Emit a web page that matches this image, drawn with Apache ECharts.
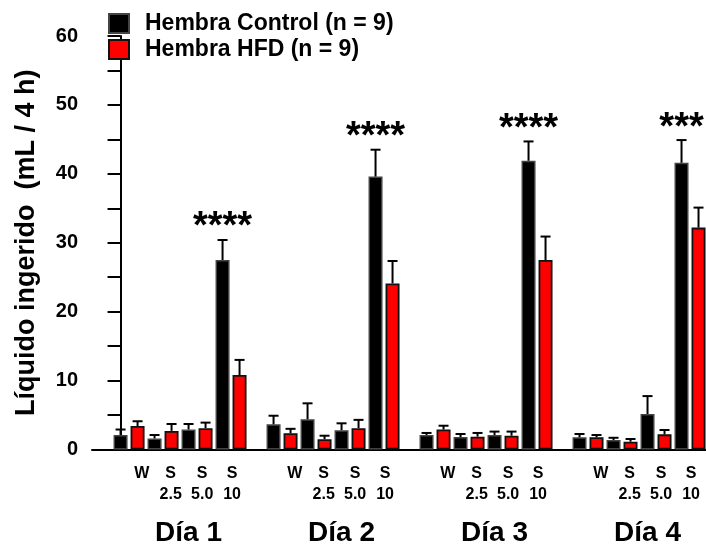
<!DOCTYPE html>
<html><head><meta charset="utf-8">
<script src="https://cdn.jsdelivr.net/npm/echarts@6/dist/echarts.min.js"></script>
<style>html,body{margin:0;padding:0;background:#fff}#c{width:706px;height:548px}</style>
</head><body><div id="c"></div>
<script>
// ---- data ----
const days = ['Día 1', 'Día 2', 'Día 3', 'Día 4'];
const treatments = ['W', 'S\n2.5', 'S\n5.0', 'S\n10'];
const seriesNames = ['Hembra Control (n = 9)', 'Hembra HFD (n = 9)'];
// order: day1 W, S2.5, S5.0, S10, day2 ..., day4
const controlMean = [2.1, 1.6, 2.9, 27.5, 3.65, 4.4, 2.8, 39.6, 2.1, 1.8, 2.1, 41.9, 1.77, 1.38, 5.15, 41.6];
const controlSem  = [0.8, 0.5, 0.8, 2.9, 1.25, 2.3, 1.0, 3.9, 0.3, 0.45, 0.5, 2.8, 0.48, 0.32, 2.6, 3.3];
const hfdMean     = [3.4, 2.7, 3.1, 10.8, 2.35, 1.5, 3.1, 24.1, 2.9, 1.86, 2.0, 27.5, 1.77, 1.13, 2.2, 32.2];
const hfdSem      = [0.7, 1.0, 0.8, 2.2, 0.65, 0.5, 1.2, 3.25, 0.55, 0.54, 0.6, 3.4, 0.33, 0.39, 0.63, 2.9];
const significance = ['****', '****', '****', '***'];
const yTickValues = [0, 10, 20, 30, 40, 50, 60];

// ---- layout helpers ----
const FONT = 'Arial, "Liberation Sans", Helvetica, sans-serif';
const SLOT_PER_DAY = 9;           // 8 bars + 1 gap
function pos(i, b) { const d = Math.floor(i / 4), p = i % 4; return d * SLOT_PER_DAY + p * 2 + b; }
const labelShift = [0.75, 0.45, 0.3, 0.06];

const treatPos = [], treatText = {};
days.forEach((d, di) => treatments.forEach((t, ti) => {
  const v = +(di * SLOT_PER_DAY + ti * 2 + 0.5 + labelShift[ti]).toFixed(3);
  treatPos.push(v); treatText[v.toFixed(3)] = t;
}));
const dayPos = [], dayText = {};
days.forEach((d, di) => { const v = +(di * SLOT_PER_DAY + 4.0).toFixed(3); dayPos.push(v); dayText[v.toFixed(3)] = d; });

const ctrlData = controlMean.map((m, i) => [pos(i, 0), m]);
const hfdData = hfdMean.map((m, i) => [pos(i, 1), m]);
const errData = [];
controlMean.forEach((m, i) => errData.push([pos(i, 0), m, m + controlSem[i]]));
hfdMean.forEach((m, i) => errData.push([pos(i, 1), m, m + hfdSem[i]]));
const sigData = significance.map((s, d) => { const i = d * 4 + 3; return [pos(i, 0), controlMean[i] + controlSem[i], s]; });

const X_MIN = -1.68, X_MAX = 34.44;

const chart = echarts.init(document.getElementById('c'), null, { renderer: 'canvas' });
chart.setOption({
  animation: false,
  backgroundColor: '#fff',
  textStyle: { fontFamily: FONT },
  legend: {
    orient: 'vertical', left: 108, top: 12, padding: 0,
    itemWidth: 20, itemHeight: 19, itemGap: 3,
    icon: 'rect',
    textStyle: { fontSize: 23, fontWeight: 'bold', color: '#000', fontFamily: FONT, lineHeight: 19, padding: [0, 0, 0, 11] },
    data: seriesNames
  },
  grid: { left: 92, right: 0, top: 36, bottom: 98.5, containLabel: false },
  xAxis: [{
    type: 'value', min: X_MIN, max: X_MAX,
    axisLine: { show: true, onZero: false, lineStyle: { color: '#000', width: 2 } },
    axisTick: { show: false }, splitLine: { show: false },
    axisLabel: {
      customValues: treatPos, margin: 14, color: '#000', fontSize: 16, fontWeight: 'bold',
      fontFamily: FONT, lineHeight: 21, align: 'center', verticalAlign: 'top',
      formatter: v => treatText[(+v).toFixed(3)] || ''
    }
  }, {
    type: 'value', min: X_MIN, max: X_MAX, position: 'bottom',
    axisLine: { show: false }, axisTick: { show: false }, splitLine: { show: false },
    axisLabel: {
      customValues: dayPos, margin: 70, color: '#000', fontSize: 28, fontWeight: 'bold',
      fontFamily: FONT, lineHeight: 28, verticalAlign: 'top',
      formatter: v => dayText[(+v).toFixed(3)] || ''
    }
  }],
  yAxis: {
    type: 'value', min: 0, max: 60, interval: 10,
    name: 'Líquido ingerido  (mL / 4 h)', nameLocation: 'middle', nameGap: 52,
    nameTextStyle: { fontSize: 27, fontWeight: 'bold', color: '#000', fontFamily: FONT },
    axisLine: { show: true, lineStyle: { color: '#000', width: 2 } },
    axisTick: { show: true, inside: false, length: 13, lineStyle: { color: '#000', width: 2 } },
    minorTick: { show: true, splitNumber: 2, length: 13, lineStyle: { color: '#000', width: 2 } },
    splitLine: { show: false },
    axisLabel: {
      margin: 14, color: '#000', fontSize: 20, fontWeight: 'bold', fontFamily: FONT,
      formatter: v => (yTickValues.indexOf(v) >= 0 ? String(v) : '')
    }
  },
  series: [{
    name: seriesNames[0], type: 'bar', xAxisIndex: 0, barWidth: 14, barGap: '-100%',
    itemStyle: { color: '#000', borderColor: '#444', borderWidth: 1.5 },
    data: ctrlData, z: 2
  }, {
    name: seriesNames[1], type: 'bar', xAxisIndex: 0, barWidth: 14, barGap: '-100%',
    itemStyle: { color: '#ff0000', borderColor: '#111', borderWidth: 1.8 },
    data: hfdData, z: 2
  }, {
    type: 'custom', xAxisIndex: 0, z: 3, silent: true,
    data: errData,
    renderItem: (params, api) => {
      const base = api.coord([api.value(0), api.value(1)]);
      const top = api.coord([api.value(0), api.value(2)]);
      const hw = 5;
      return { type: 'group', children: [
        { type: 'line', shape: { x1: base[0], y1: base[1], x2: top[0], y2: top[1] }, style: { stroke: '#000', lineWidth: 2 } },
        { type: 'line', shape: { x1: top[0] - hw, y1: top[1], x2: top[0] + hw, y2: top[1] }, style: { stroke: '#000', lineWidth: 2 } }
      ]};
    }
  }, {
    type: 'custom', xAxisIndex: 0, z: 4, silent: true, clip: false,
    data: sigData,
    renderItem: (params, api) => {
      const p = api.coord([api.value(0), api.value(1)]);
      return { type: 'text', x: p[0], y: p[1] - 12,
        style: { text: sigData[params.dataIndex][2], fontSize: 38, fontWeight: 'bold', fontFamily: FONT,
                 fill: '#000', align: 'center', verticalAlign: 'middle' } };
    }
  }]
});
</script></body></html>
